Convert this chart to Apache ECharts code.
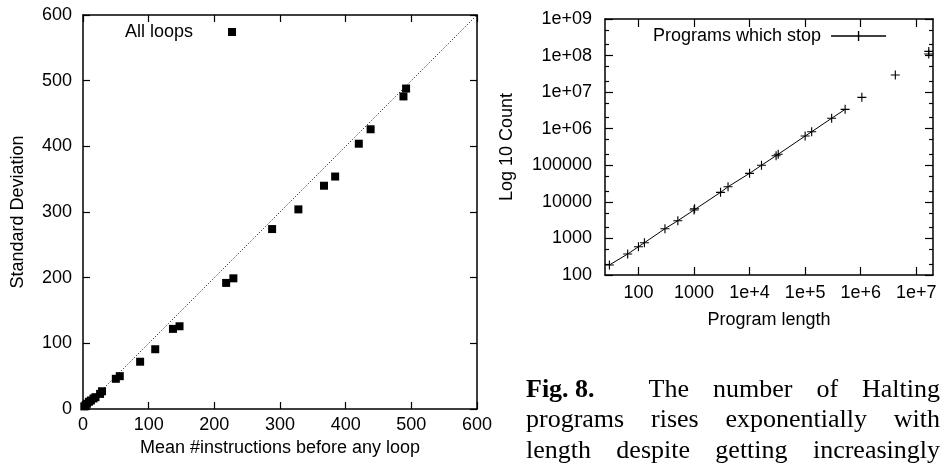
<!DOCTYPE html>
<html>
<head>
<meta charset="utf-8">
<script src="https://cdn.jsdelivr.net/npm/echarts@6/dist/echarts.min.js"></script>
<style>
  html, body { margin: 0; padding: 0; background: #fff; }
  #wrap { position: relative; width: 940px; height: 471px; }
  #chart { position: absolute; left: 0; top: 0; width: 940px; height: 471px; }
  #right { position: absolute; left: 490px; top: 0; width: 450px; height: 340px; }
</style>
</head>
<body>
<div id="wrap">
  <div id="chart"></div>
  <div id="right"></div>
</div>
<script>
// left panel: spread of loop lengths
const meanInstr = [2, 4, 6, 9, 12, 16, 19, 26, 29, 50, 56, 87, 110, 137, 147, 218, 229, 288, 328, 367, 384, 420, 438, 488, 492];
const stdDev    = [4, 6, 8, 11, 13, 16, 18, 23, 27, 46, 50, 72, 91, 122, 126, 192, 199, 274, 304, 340, 354, 404, 426, 476, 488];
const diagX = [0, 600];
const diagY = [0, 600];

// right panel: halting programs by length
const stopLen   = [30, 64, 100, 128, 300, 512, 1000, 1024, 3000, 4096, 10000, 16384, 30000, 32768, 100000, 131072, 300000, 524288];
const stopCount = [188, 375, 594, 764, 1845, 3055, 6000, 6500, 18200, 25900, 60300, 100000, 183000, 200000, 631000, 828000, 1930000, 3390000];
const tailLen   = [1048576, 4194304, 16777216, 16777216];
const tailCount = [7200000, 29400000, 130000000, 110000000];

const xLogRange  = [25, 2e7];
const yLogRange  = [100, 1e9];
const xLogTicks  = [100, 1000, 1e4, 1e5, 1e6, 1e7];
const xLogLabels = ['100', '1000', '1e+4', '1e+5', '1e+6', '1e+7'];
const yLogTicks  = [1e2, 1e3, 1e4, 1e5, 1e6, 1e7, 1e8, 1e9];
const yLogLabels = ['100', '1000', '10000', '100000', '1e+06', '1e+07', '1e+08', '1e+09'];
const yMinorTicks = [200, 500, 2000, 5000, 2e4, 5e4, 2e5, 5e5, 2e6, 5e6, 2e7, 5e7, 2e8, 5e8];

const captionLines = [
  ['Fig. 8.', 'The', 'number', 'of', 'Halting'],
  ['programs', 'rises', 'exponentially', 'with'],
  ['length', 'despite', 'getting', 'increasingly']
];

const FONT = 'Liberation Sans';
const SERIF = '"Liberation Serif"';
const CAP_SIZE = 26;
const black = '#000';
const txt = { fontSize: 18, color: black, fontFamily: FONT };
// gnuplot border: every side drawn, never pulled onto the zero line
const line = { show: true, onZero: false, lineStyle: { color: black, width: 1.5 } };
const noLine = { show: false, onZero: false };

function logLabel(ticks, labels) {
  return (v) => {
    const i = ticks.findIndex(t => Math.abs(Math.log10(t) - Math.log10(v)) < 1e-6);
    return i < 0 ? '' : labels[i];
  };
}

function ticks(len, values) {
  const t = { show: true, inside: true, length: len, lineStyle: { color: black, width: 1.2 } };
  if (values) t.customValues = values;
  return t;
}

function tickOnly(extra) {
  return Object.assign({
    axisLine: line,
    axisLabel: { show: false },
    splitLine: { show: false },
    minorTick: { show: false }
  }, extra);
}

// mirrored ticks of the log panel: plain value axes over log10 of the same range
const lg = (a) => a.map(Math.log10);
function logMirror(extra, values, len, withLine) {
  return tickOnly(Object.assign({
    type: 'value',
    axisLine: withLine ? line : noLine,
    axisTick: ticks(len, lg(values))
  }, extra));
}

// justified caption, laid out like the latex column
const ctx = document.createElement('canvas').getContext('2d');
function measure(t, bold) {
  ctx.font = (bold ? 'bold ' : '') + CAP_SIZE + 'px ' + SERIF;
  return ctx.measureText(t).width;
}
const capLeft = 526, capRight = 940;
const capY = [390, 420.5, 451];
const caption = [];
captionLines.forEach((words, li) => {
  const bold = words.map((w, wi) => li === 0 && wi === 0);
  const widths = words.map((w, wi) => measure(w, bold[wi]));
  const extra = li === 0 ? 30 : 0;
  const free = capRight - capLeft - widths.reduce((a, b) => a + b, 0) - extra;
  const gap = free / (words.length - 1);
  let x = capLeft;
  words.forEach((w, wi) => {
    caption.push({
      type: 'text', x: x, y: capY[li],
      style: {
        text: w, fill: black,
        font: (bold[wi] ? 'bold ' : '') + CAP_SIZE + 'px ' + SERIF,
        textVerticalAlign: 'middle', verticalAlign: 'middle'
      }
    });
    x += widths[wi] + gap + (wi === 0 ? extra : 0);
  });
});

const cross = 'path://M0,7H16V9H0Z M7,0H9V16H7Z';
const crossOnLine = 'path://M0,4.3H55V5.7H0Z M26.8,0H28.2V10H26.8Z';

// left panel and caption
const leftOption = {
  animation: false,
  backgroundColor: '#fff',
  textStyle: { fontFamily: FONT },
  grid: { left: 83, top: 15, width: 394, height: 394 },
  legend: {
    data: ['All loops'], left: 125, top: 23, align: 'right', padding: 0,
    itemWidth: 8, itemHeight: 8, icon: 'rect',
    textStyle: Object.assign({ padding: [0, 30, 0, 0] }, txt)
  },
  xAxis: [
    {
      type: 'value', min: 0, max: 600, interval: 100, position: 'bottom',
      axisLine: line, axisTick: ticks(7),
      axisLabel: Object.assign({ margin: 7 }, txt),
      splitLine: { show: false },
      name: 'Mean #instructions before any loop', nameLocation: 'middle', nameGap: 29,
      nameTextStyle: txt
    },
    tickOnly({ type: 'value', min: 0, max: 600, interval: 100, position: 'top', axisTick: ticks(7) })
  ],
  yAxis: [
    {
      type: 'value', min: 0, max: 600, interval: 100, position: 'left',
      axisLine: line, axisTick: ticks(7),
      axisLabel: Object.assign({ margin: 11 }, txt),
      splitLine: { show: false },
      name: 'Standard Deviation', nameLocation: 'middle', nameGap: 56,
      nameTextStyle: txt
    },
    tickOnly({ type: 'value', min: 0, max: 600, interval: 100, position: 'right', axisTick: ticks(7) })
  ],
  series: [
    {
      type: 'line', silent: true,
      data: diagX.map((x, i) => [x, diagY[i]]),
      symbol: 'none', lineStyle: { color: black, width: 1, type: [1, 2] }
    },
    {
      name: 'All loops', type: 'scatter',
      data: meanInstr.map((x, i) => [x, stdDev[i]]),
      symbol: 'rect', symbolSize: 8, itemStyle: { color: black, opacity: 1 }
    }
  ],
  graphic: caption
};

// right panel, in its own chart laid over the page (offset 490px)
const yLo = Math.log10(yLogRange[0]), yHi = Math.log10(yLogRange[1]);
const rightOption = {
  animation: false,
  textStyle: { fontFamily: FONT },
  grid: { left: 113, top: 19, width: 330, height: 256 },
  legend: {
    data: [{ name: 'Programs which stop', icon: crossOnLine }], icon: crossOnLine,
    left: 163, top: 27, align: 'right', padding: 0,
    itemWidth: 55, itemHeight: 10,
    itemStyle: { color: black, opacity: 1 },
    textStyle: Object.assign({ padding: [0, 5, 0, 0] }, txt)
  },
  xAxis: [
    {
      type: 'log', min: xLogRange[0], max: xLogRange[1], position: 'bottom',
      axisLine: line, axisTick: ticks(8, xLogTicks),
      axisLabel: Object.assign({ margin: 9, customValues: xLogTicks, formatter: logLabel(xLogTicks, xLogLabels) }, txt),
      splitLine: { show: false }, minorTick: { show: false },
      name: 'Program length', nameLocation: 'middle', nameGap: 36,
      nameTextStyle: txt
    },
    logMirror({ min: Math.log10(xLogRange[0]), max: Math.log10(xLogRange[1]), position: 'top' }, xLogTicks, 8, true)
  ],
  yAxis: [
    {
      type: 'log', min: yLogRange[0], max: yLogRange[1], position: 'left',
      axisLine: line, axisTick: ticks(8, yLogTicks),
      axisLabel: Object.assign({ margin: 13, customValues: yLogTicks, formatter: logLabel(yLogTicks, yLogLabels) }, txt),
      splitLine: { show: false }, minorTick: { show: false },
      name: 'Log 10 Count', nameLocation: 'middle', nameGap: 89,
      nameTextStyle: txt
    },
    logMirror({ min: yLo, max: yHi, position: 'left' }, yMinorTicks, 4, false),
    logMirror({ min: yLo, max: yHi, position: 'right' }, yLogTicks, 8, true),
    logMirror({ min: yLo, max: yHi, position: 'right' }, yMinorTicks, 4, false)
  ],
  series: [
    {
      name: 'Programs which stop', type: 'line', xAxisIndex: 0, yAxisIndex: 0,
      data: stopLen.map((x, i) => [x, stopCount[i]]),
      symbol: cross, symbolSize: 9, showAllSymbol: true,
      itemStyle: { color: black, opacity: 1 }, lineStyle: { color: black, width: 1 }
    },
    {
      type: 'scatter', xAxisIndex: 0, yAxisIndex: 0,
      data: tailLen.map((x, i) => [x, tailCount[i]]),
      symbol: cross, symbolSize: 9, itemStyle: { color: black, opacity: 1 }
    }
  ]
};

const chart = echarts.init(document.getElementById('chart'), null, { renderer: 'canvas' });
chart.setOption(leftOption);
const right = echarts.init(document.getElementById('right'), null, { renderer: 'canvas' });
right.setOption(rightOption);
</script>
</body>
</html>
